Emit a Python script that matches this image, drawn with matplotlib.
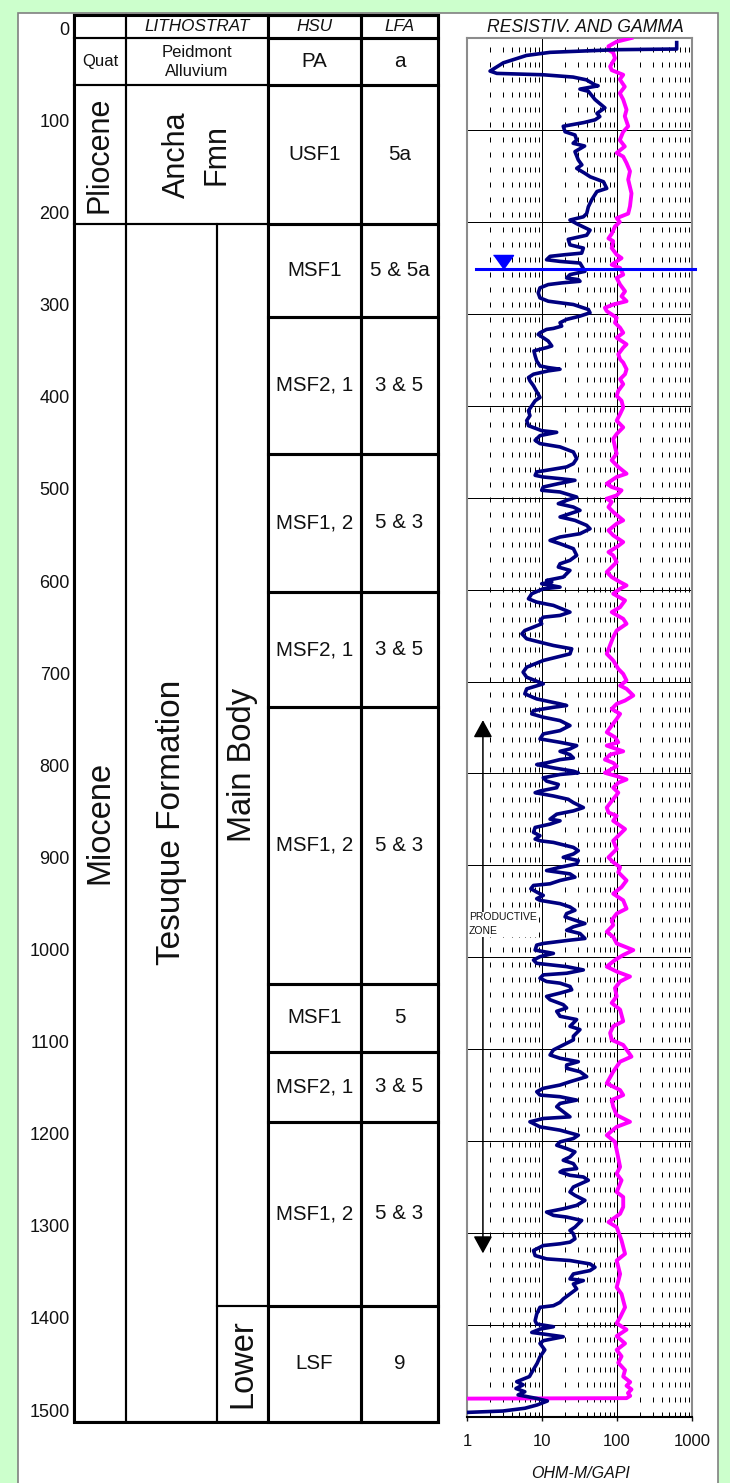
import matplotlib.pyplot as plt
from matplotlib.patches import Rectangle
from matplotlib.ticker import FixedLocator, NullFormatter

plt.rcParams['font.family'] = ['Liberation Sans', 'DejaVu Sans']

# ---------------- data ----------------
depth_ticks = list(range(0, 1501, 100))
log_ticks = [1, 10, 100, 1000]
log_tick_labels = ['1', '10', '100', '1000']

header_top, header_base = -15, 11
column_base = 1513

epochs = ['Quat', 'Pliocene', 'Miocene']
epoch_top = [11, 62, 212]
epoch_base = [62, 212, 1513]

litho = ['Peidmont\nAlluvium', 'Ancha\nFmn', 'Tesuque Formation']
litho_top = [11, 62, 212]
litho_base = [62, 212, 1513]

members = ['Main Body', 'Lower']
member_top = [212, 1387]
member_base = [1387, 1513]

hsu = ['PA', 'USF1', 'MSF1', 'MSF2, 1', 'MSF1, 2', 'MSF2, 1', 'MSF1, 2',
       'MSF1', 'MSF2, 1', 'MSF1, 2', 'LSF']
lfa = ['a', '5a', '5 & 5a', '3 & 5', '5 & 3', '3 & 5', '5 & 3',
       '5', '3 & 5', '5 & 3', '9']
hsu_top = [11, 62, 212, 313, 462, 612, 737, 1037, 1111, 1187, 1387]
hsu_base = hsu_top[1:] + [1513]

# resistivity (ohm-m) vs depth (ft)
res_depth = [5, 12, 12.7, 15.6, 19, 27, 36, 38.5, 40, 42.5, 45.5, 51, 52, 55.6, 58,
             67, 76, 82, 85.5, 89, 92, 96, 102, 105.5, 111, 114.5, 117.5, 123.6,
             132.7, 138, 141.8, 147, 151, 156.4, 163.6, 167, 176, 183.6, 191, 194.5,
             198, 202, 209, 214.5, 219, 225, 228.5, 234, 235.7, 237.5, 241.2, 243,
             244.8, 253.8, 257.4, 261, 262.8, 264.6, 266.4, 268.2, 271.8, 277.3,
             282.7, 286.3, 289.9, 295.3, 298.9, 302.5, 306.1, 309.7, 313.4, 315.9,
             317, 320.6, 322.4, 326, 329.6, 335, 336.8, 338.6, 340.4, 345.8, 351.3,
             356.7, 358.5, 360.3, 362.1, 365.7, 369.3, 372.9, 378.3, 391, 394.6, 400,
             405.4, 410.8, 416.2, 421.7, 427.1, 428.9, 432.5, 437.6, 441.2, 444.8,
             450.3, 457.5, 463, 466.6, 468.4, 472, 475.7, 477.5, 479.3, 481.1, 482.9,
             484.8, 488.4, 492, 493.8, 499.3, 502.9, 506.5, 510.2, 513.8, 521, 524.7,
             530.1, 533.8, 539.2, 542.8, 546.5, 550.1, 555.5, 562.8, 568.2, 571.9,
             575.5, 579.1, 582.8, 586.4, 590, 591.8, 593.6, 597.3, 599.1, 604.5, 610,
             613.6, 617.2, 624.5, 628.1, 630, 633.6, 637.2, 640.8, 644.5, 648.1,
             653.5, 657.2, 660.8, 664.4, 669.9, 673.5, 677.1, 684.4, 689.8, 695.3,
             702.5, 708, 713.4, 718.9, 724.3, 726.1, 728, 731.6, 735.2, 738.8, 742.5,
             747.9, 753.4, 757, 762.4, 766.1, 769.7, 773.3, 775.9, 779.5, 783.1,
             784.9, 788.5, 790.3, 793.9, 797.5, 799.3, 801.1, 804.7, 808.3, 811.9,
             815.5, 819.1, 820.9, 824.5, 828.1, 831.7, 833.5, 837.1, 840.7, 844.3,
             849.7, 851.5, 855.1, 858.7, 864.1, 867.7, 871.4, 873.2, 875, 880.4, 884,
             887.6, 891.2, 894.8, 898.4, 902, 905.6, 909.2, 912.8, 916.4, 920, 921.8,
             925.4, 929, 932.6, 936.2, 938, 941.6, 945.2, 948.8, 952.4, 956, 959.6,
             963.2, 966.8, 970.5, 974.1, 979.5, 981.3, 984.9, 986.7, 992.1, 995.7,
             999.3, 1002.9, 1006.5, 1010.1, 1013.7, 1017.3, 1019.1, 1022.7, 1026.3,
             1028.1, 1031.7, 1035.3, 1038.9, 1042.5, 1046.1, 1051.5, 1055.1, 1058.7,
             1064.1, 1067.7, 1071.4, 1075, 1078.6, 1085.8, 1089.8, 1093.5, 1097.1,
             1100.7, 1106.2, 1109.8, 1113.5, 1117.1, 1120.7, 1124.4, 1129.8, 1135.3,
             1138.9, 1142.5, 1146.2, 1149.8, 1151.6, 1155.3, 1158.9, 1162.5, 1168,
             1173.5, 1175.3, 1178.9, 1184.4, 1188, 1193.5, 1197.1, 1200.7, 1204.4,
             1208, 1211.6, 1217.1, 1220.7, 1224.4, 1229.8, 1231.6, 1233.5, 1237.1,
             1238.9, 1242.5, 1249.8, 1255.3, 1258.9, 1264.4, 1269.8, 1273.5, 1277.1,
             1280.7, 1282.5, 1286.2, 1293.5, 1297.1, 1300.7, 1306.2, 1309.8, 1311.6,
             1313.5, 1318.9, 1324.4, 1328, 1329.8, 1333.5, 1337.1, 1340.7, 1344.4,
             1349.8, 1351.6, 1355.3, 1360.7, 1366.2, 1371.6, 1375.3, 1378.9, 1380.7,
             1388, 1395.3, 1398.9, 1401.8, 1404.4, 1408, 1412.7, 1417, 1420, 1427,
             1434.5, 1441.7, 1449, 1456, 1461.6, 1465, 1469, 1472.5, 1476, 1479.8,
             1482.6, 1486.9, 1490.5, 1493.5, 1495]
res_ohm = [625, 625, 99, 12.8, 6.2, 3.05, 2.03, 2.5, 10.4, 26, 39, 51, 56, 32, 41.5,
           51, 69, 54, 59, 51, 36, 19.2, 20.3, 27.5, 29, 26, 37, 27.5,
           30.5, 34, 29, 37, 44, 66, 73, 54, 46, 41.5, 39.4, 35.6,
           23.6, 29, 43.7, 39.4, 22.4, 23.6, 35.6, 33.8, 20.3, 12.8, 11.5, 17.4,
           32.1, 37.4, 23.6, 21.3, 30.5, 32.1, 18.3, 12.1, 9.4, 8.9,
           9.4, 12.1, 26.2, 41.5, 43.7, 32.1, 21.3, 17.4, 18.3, 14.2,
           11.5, 9.4, 8.9, 10.4, 12.1, 13.5, 11.5, 9.4, 7.8, 8.1, 8.5,
           9.4, 12.1, 17.4, 12.1, 7.7, 6.6, 6.9, 7.7, 9.4, 8.1, 7.3,
           6.6, 6.9, 6.25, 6.6, 9.9, 15.7, 9.4, 8.1, 9.4, 17.4,
           26.2, 29, 26.2, 21.3, 15.7, 8.5, 8.1, 10.4, 17.4, 27.5, 21.3,
           16.5, 10.4, 9.9, 17.4, 29, 21.3, 16.5, 26.2, 32.1, 17.4, 27.5,
           39.4, 43.7, 32.1, 17.4, 12.8, 17.4, 26.2, 29, 23.6, 17.4,
           16.5, 23.6, 21.3, 19.2, 11.5, 13.5, 9.9, 17.4, 10.4, 7.3, 6.6,
           8.5, 14.2, 23.6, 17.4, 10.4, 9.4, 9.9, 7.7, 5.9, 5.4,
           6.25, 9.4, 14.2, 24.9, 23.6, 15.7, 10.4, 6.25, 5.6, 6.25,
           10.4, 6.25, 5.9, 8.5, 17.4, 21.3, 14.2, 7.7, 7.3, 10.4, 17.4,
           23.6, 17.4, 10.4, 9.4, 17.4, 29, 23.6, 17.4, 23.6, 26.2,
           17.4, 11.5, 8.5, 14.2, 26.2, 30.5, 17.4, 10.4, 11.5, 16.5,
           15.7, 9.4, 8.1, 14.2, 22.4, 26.2, 29, 35.6, 26.2, 15.7,
           12.8, 17.4, 12.8, 8.1, 7.7, 9.4, 8.1, 9.4, 14.2, 26.2, 30.5,
           26.2, 19.2, 30.5, 29, 17.4, 11.5, 23.6, 27.5, 17.4, 12.8, 7.7,
           7.1, 8.5, 10.4, 8.5, 9.4, 17.4, 23.6, 27.5, 21.3, 20.3, 27.5,
           37.4, 26.2, 21.3, 32.1, 37.4, 23.6, 10.4, 8.5, 8.1, 14.2,
           9.4, 7.7, 8.5, 21.3, 35.6, 21.3, 10.4, 9.4, 11.5,
           17.4, 23.6, 24.9, 17.4, 11.5, 12.8, 19.2, 21.3, 15.7,
           17.4, 29, 26.2, 23.6, 32.1, 26.2, 26.2, 21.3, 17.4,
           14.2, 12.8, 17.4, 30.5, 21.3, 21.3, 32.1, 39.4, 23.6,
           17.4, 10.4, 8.5, 9.4, 17.4, 29, 17.4, 15.7, 19.2,
           23.6, 10.4, 6.9, 9.4, 17.4, 30.5, 26.2, 17.4, 15.7,
           21.3, 27.5, 23.6, 19.2, 26.2, 29, 19.2, 17.4, 23.6,
           35.6, 41.5, 26.2, 23.6, 27.5, 37.4, 29, 19.2, 11.5,
           14.2, 21.3, 33.8, 27.5, 23.6, 26.2, 27.5, 23.6, 17.4,
           10.4, 7.7, 8.1, 11.5, 23.6, 43.7, 50.9, 43.7, 26.2,
           23.6, 35.6, 26.2, 29, 23.6, 19.2, 17.4, 14.2, 9.4,
           8.5, 8.1, 8.5, 14.2, 9.4, 7.3, 19.2, 10.4, 9.4, 10.9,
           9.4, 8.6, 7.6, 6.8, 4.6, 5.6, 4.5, 5.9, 4.8, 8.5,
           11.8, 8.6, 5.9, 3.0, 1]

# natural gamma (GAPI) vs depth (ft)
gam_depth = [0, 4, 9, 13, 16, 22, 31, 35, 40, 45, 53, 60, 67, 78, 85, 96, 102, 111, 118,
             125, 129, 136, 145, 154, 169, 183, 191, 196, 200, 205, 213, 218, 221,
             228.5, 235.7, 239.4, 243, 246.6, 250.2, 257.4, 261, 268.2, 275.5, 280.9,
             286.3, 289.9, 293.5, 297.1, 300.7, 304.3, 309.7, 315.2, 320.6, 326,
             333.2, 336.8, 344, 349.5, 353.1, 360.3, 365.7, 371.1, 376.5, 383.8,
             389.2, 394.6, 401.8, 409, 416.2, 423.5, 430.7, 436.1, 444.8, 452.1,
             459.3, 466.6, 473.9, 477.5, 484.8, 488.4, 492, 497.5, 501.1, 504.7,
             510.2, 515.6, 524.7, 528.3, 535.6, 541, 548.3, 553.7, 559.2, 562.8, 570,
             575.5, 580.9, 586.4, 591.8, 595.5, 599.1, 604.5, 611.8, 619.1, 624.5,
             631.8, 637.2, 644.5, 651.7, 669.9, 677.1, 686.2, 691.7, 698.9, 704.4,
             708, 715.2, 720.7, 724.3, 729.8, 735.2, 740.7, 748, 755.2, 760.6, 766.1,
             769.7, 775.9, 779.5, 784.9, 788.5, 792.1, 799.3, 802.9, 806.5, 810.1,
             815.5, 820.9, 828.1, 837.1, 842.5, 846.1, 851.5, 860.5, 867.7, 873.2,
             882.2, 891.2, 896.6, 902, 907.4, 916.4, 923.6, 930.8, 938, 947, 952.4,
             959.6, 965, 972.3, 977.7, 984.9, 992.1, 997.5, 1002.9, 1010.1, 1015.5,
             1020.9, 1026.3, 1033.5, 1042.5, 1049.7, 1056.9, 1069.5, 1075, 1082.2,
             1089.8, 1095.3, 1108, 1113.5, 1124.4, 1137.1, 1144.4, 1149.8, 1155.3,
             1162.5, 1171.6, 1178.9, 1184.4, 1193.5, 1200.7, 1209.8, 1228, 1235.3,
             1242.5, 1255.3, 1260.7, 1271.6, 1278.9, 1288, 1293.5, 1308, 1322.5,
             1329.8, 1344.4, 1358.9, 1366.2, 1380.7, 1391.6, 1398, 1405, 1412, 1420,
             1427, 1434, 1441, 1449, 1456, 1462, 1466, 1470, 1474, 1477, 1479.5, 1480]
gam_api = [156, 99, 77, 77, 89, 94, 81, 85, 121, 109, 127, 109, 121, 134, 127, 141, 121,
           109, 127, 99, 121, 134, 149, 141, 156, 149, 141, 99, 109, 94, 85, 77, 89,
           85, 99, 115, 99, 85, 110, 121, 99, 110, 128, 115,
           134, 89, 69, 73, 85, 99, 94, 110, 121, 99,
           134, 121, 104, 110, 121, 134, 128, 110, 121, 104,
           99, 115, 121, 110, 99, 121, 99, 89, 94, 99,
           85, 104, 134, 99, 73, 85, 115, 99, 73, 85,
           77, 89, 121, 99, 77, 89, 121, 99, 77, 89, 99,
           85, 73, 85, 110, 134, 110, 89, 128, 110, 85,
           121, 134, 99, 89, 73, 89, 104, 121, 134, 110,
           134, 165, 128, 99, 85, 110, 99, 85, 73, 94, 104,
           73, 121, 81, 69, 89, 99, 69, 99, 134, 104,
           89, 104, 89, 73, 77, 99, 89, 128, 104, 89,
           99, 77, 89, 110, 104, 134, 115, 89, 121, 134, 99,
           85, 89, 73, 89, 99, 165, 121, 94, 73, 99,
           149, 110, 94, 99, 85, 110, 121, 89, 81,
           85, 121, 156, 110, 89, 73, 110, 121, 85,
           89, 99, 149, 99, 73, 94, 99, 110, 99,
           115, 99, 121, 121, 110, 77, 99, 115, 128,
           99, 110, 99, 115, 128, 110, 99, 134, 99, 128,
           99, 115, 104, 128, 121, 150, 134, 156, 140, 150, 134, 1]

water_table_depth = 251
productive_top, productive_base = 742, 1322
productive_label_depth = 964

# ---------------- layout helpers ----------------
W, H = 730, 1483
fig = plt.figure(figsize=(W / 100, H / 100), dpi=100, facecolor='#CCFFCC')


def px_axes(left, top, right, bottom):
    return fig.add_axes([left / W, 1 - bottom / H, (right - left) / W, (bottom - top) / H])


# white chart area
fig.add_artist(Rectangle((18 / W, -0.01), 700 / W, 1 - 13 / H + 0.01,
                         transform=fig.transFigure, facecolor='white',
                         edgecolor='#808080', lw=1.2, zorder=0))

# ---------------- stratigraphic column ----------------
ax_t = px_axes(74, 14.5, 438, 1422)
ax_t.set_xlim(0, 364)
ax_t.set_ylim(column_base, header_top)
ax_t.set_xticks([])
ax_t.set_yticks(depth_ticks)
ax_t.set_yticklabels([str(d) for d in depth_ticks])
ax_t.tick_params(axis='y', length=0, pad=3, labelsize=13, labelcolor='#111111')
for s in ax_t.spines.values():
    s.set_visible(False)
ax_t.patch.set_alpha(0)

col = [0, 52, 143, 194, 287, 364]
thin, thick = 1.5, 2.2


def cell(x0, x1, top, base, lw=thin):
    ax_t.add_patch(Rectangle((x0, top), x1 - x0, base - top, fill=False,
                             edgecolor='black', lw=lw, clip_on=False, zorder=2))


def label(x0, x1, top, base, txt, fs, rot=0, **kw):
    ax_t.text((x0 + x1) / 2, (top + base) / 2, txt, ha='center', va='center',
              rotation=rot, fontsize=fs, color='#111111', multialignment='center',
              **kw)


# header row
cell(col[0], col[1], header_top, header_base)
cell(col[1], col[3], header_top, header_base)
cell(col[3], col[4], header_top, header_base, thick)
cell(col[4], col[5], header_top, header_base, thick)
label(col[1], col[3], header_top, header_base, 'LITHOSTRAT', 12.3, style='italic')
label(col[3], col[4], header_top, header_base, 'HSU', 12.3, style='italic')
label(col[4], col[5], header_top, header_base, 'LFA', 12.3, style='italic')

epoch_fs = [12, 22, 23.5]
for name, t, b, fs in zip(epochs, epoch_top, epoch_base, epoch_fs):
    cell(col[0], col[1], t, b)
    label(col[0], col[1], t, b, name, fs, rot=0 if fs < 15 else 90)

litho_fs = [12, 22, 24]
litho_right = [col[3], col[3], col[2]]
for name, t, b, fs, xr in zip(litho, litho_top, litho_base, litho_fs, litho_right):
    cell(col[1], xr, t, b)
    label(col[1], xr, t, b, name, fs, rot=0 if fs < 15 else 90,
          linespacing=1.3 if fs < 15 else 1.4)

for name, t, b in zip(members, member_top, member_base):
    cell(col[2], col[3], t, b)
    label(col[2], col[3], t, b, name, 23.5, rot=90)

for h, l, t, b in zip(hsu, lfa, hsu_top, hsu_base):
    cell(col[3], col[4], t, b, thick)
    cell(col[4], col[5], t, b, thick)
    label(col[3], col[4], t, b, h, 14.8)
    label(col[4], col[5], t, b, l, 14.8)

# outer frame
cell(col[0], col[5], header_top, column_base, thick)

# ---------------- log track ----------------
ax = px_axes(467, 38, 692, 1417)
ax.set_xscale('log')
ax.set_xlim(1, 1000)
ax.set_ylim(1500, 0)
ax.set_yticks(depth_ticks)
ax.tick_params(axis='y', length=0, labelleft=False)
ax.set_xticks(log_ticks)
ax.set_xticklabels(log_tick_labels)
ax.xaxis.set_minor_locator(FixedLocator([m * 10 ** k for k in range(3) for m in range(2, 10)]))
ax.xaxis.set_minor_formatter(NullFormatter())
ax.tick_params(axis='x', which='minor', length=0)
ax.tick_params(axis='x', which='major', direction='out', length=3, width=1,
               pad=9, labelsize=12, colors='#111111')
ax.grid(axis='y', color='black', lw=0.72)
ax.grid(axis='x', which='major', color='black', lw=0.72)
ax.grid(axis='x', which='minor', color='black', lw=0.72, linestyle=(0, (5, 10)))
ax.set_axisbelow(True)
for s in ['left', 'right', 'top']:
    ax.spines[s].set_color('#8c8c8c')
    ax.spines[s].set_linewidth(1.5)
ax.spines['bottom'].set_color('black')
ax.spines['bottom'].set_linewidth(1.5)

ax.plot(gam_api, gam_depth, color='#FF00FF', lw=2.8, zorder=3)
ax.plot(res_ohm, res_depth, color='#000080', lw=2.6, zorder=4)

# water table
ax.plot([1.32, 1096], [water_table_depth] * 2, color='#0000FF', lw=2.2,
        clip_on=False, zorder=6)
tri = [(-1, 1.4), (1, 1.4), (0, 0)]
ax.plot([3.02], [water_table_depth], marker=tri, ms=20.2, color='#0000FF',
        lw=0, zorder=6)

# productive zone arrow
ax.annotate('', xy=(1.63, productive_top), xytext=(1.63, productive_base),
            arrowprops=dict(arrowstyle='<|-|>,head_length=0.53,head_width=0.29',
                            color='black', lw=1.1, shrinkA=0, shrinkB=0,
                            mutation_scale=20), zorder=5)
ax.text(1.06, productive_label_depth, 'PRODUCTIVE\nZONE',
        fontsize=7.5, ha='left', va='center', linespacing=1.45, color='#111111',
        bbox=dict(facecolor='white', edgecolor='none', pad=0.5), zorder=5)

fig.text(585 / W, 1 - 27 / H, 'RESISTIV. AND GAMMA', ha='center', va='center',
         fontsize=12.7, style='italic', color='#111111')
fig.text(581 / W, 1 - 1473 / H, 'OHM-M/GAPI', ha='center', va='center',
         fontsize=11.5, style='italic', color='#111111')

fig.savefig('out.png', dpi=100, facecolor=fig.get_facecolor())
